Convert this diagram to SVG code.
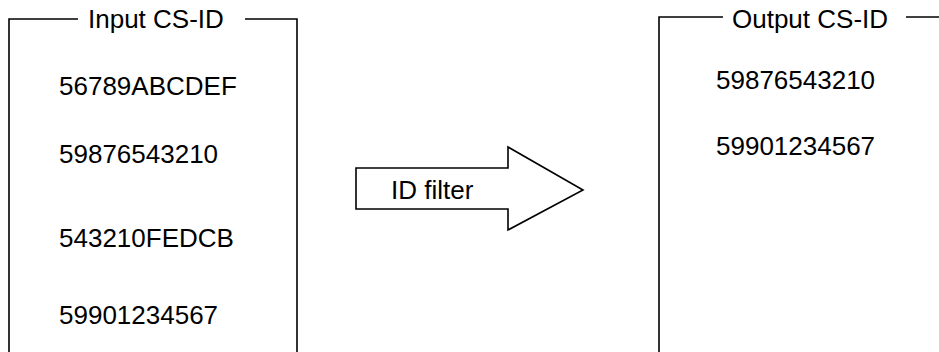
<svg xmlns="http://www.w3.org/2000/svg" width="939" height="352" viewBox="0 0 939 352">
<style>
.ln{fill:none;stroke:#000;stroke-width:1.6}
.t{font-family:"Liberation Sans",Arial,sans-serif;font-size:26px;fill:#000}
</style>
<rect width="939" height="352" fill="#fff"/>
<g id="input-box">
<polyline class="ln" points="78,19 9,19 9,352"/>
<polyline class="ln" points="245,19 297,19 297,352"/>
<text class="t" x="88" y="28">Input CS-ID</text>
<text class="t" x="59" y="95">56789ABCDEF</text>
<text class="t" x="59" y="163">59876543210</text>
<text class="t" x="59" y="247">543210FEDCB</text>
<text class="t" x="59" y="324">59901234567</text>
</g>
<g id="output-box">
<polyline class="ln" points="723,17 659,17 659,352"/>
<line class="ln" x1="906" y1="17" x2="939" y2="17"/>
<text class="t" x="732" y="28">Output CS-ID</text>
<text class="t" x="716" y="89">59876543210</text>
<text class="t" x="716" y="155">59901234567</text>
</g>
<g id="connectors">
<g id="id-filter">
<polygon class="ln" points="356,168 508,168 508,147 583,190 508,230 508,209 356,209"/>
<text class="t" x="391" y="199">ID filter</text>
</g>
</g>
</svg>
